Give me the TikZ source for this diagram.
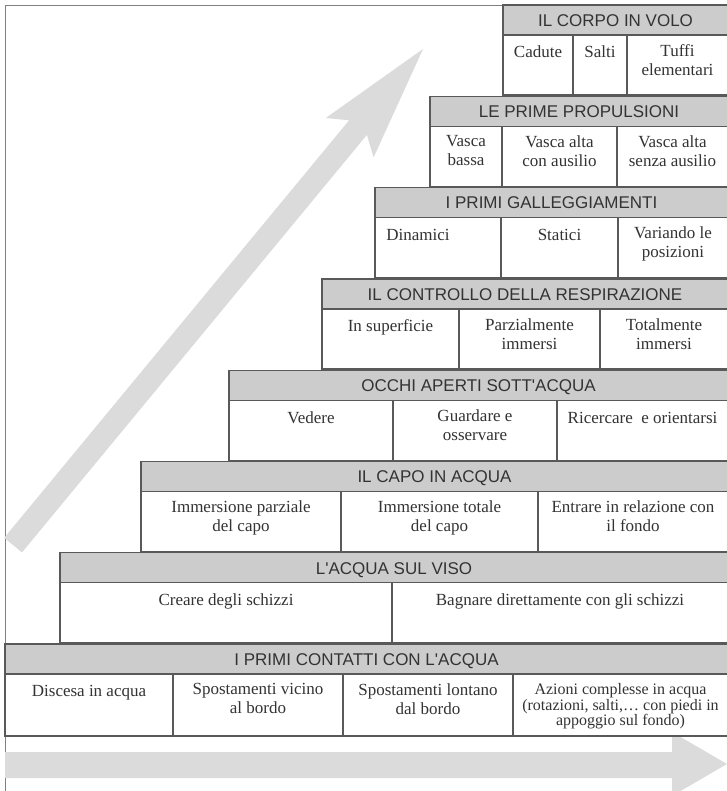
\documentclass[tikz,border=0pt]{standalone}
\usepackage{fontspec}
\setmainfont{Liberation Serif}
\newfontfamily\headfont{Liberation Sans}
\definecolor{textgray}{gray}{0.2}
\definecolor{linegray}{gray}{0.35}
\definecolor{headgray}{gray}{0.8}
\definecolor{arrowgray}{gray}{0.86}
\tikzset{
  head/.style={draw=linegray, line width=1.3pt, fill=headgray, minimum height=30pt, inner sep=0pt,
    text height=12.5pt, text depth=0pt, text=textgray, font=\headfont\fontsize{17}{20}\selectfont},
  cell/.style={draw=linegray, line width=1.3pt, fill=white, minimum height=60pt, inner sep=0pt},
  txt/.style={anchor=north, yshift=-10pt, align=center, inner sep=0pt, text=textgray,
    font=\fontsize{17}{19}\selectfont, execute at begin node=\strut},
}
\begin{document}
\begin{tikzpicture}[x=1pt,y=-1pt]
	\useasboundingbox (0,0) rectangle (726,791);
	% frame and the two grey arrows
	\draw[gray, line width=0.8pt] (5,791) -- (5,5) -- (503,5);
	\fill[arrowgray] (4.2,537.8) -- (22,552.4) -- (366.9,134.9) -- (373.6,157.4) -- (423,49)
		-- (325.8,118) -- (349.1,120.3) -- cycle;
	\fill[arrowgray] (5,752) -- (672,752) -- (672,732) -- (727,764) -- (672,796) -- (672,778) -- (5,778) -- cycle;

	\node[head, minimum width=225pt] (LA) at (615.5,20) {IL CORPO IN VOLO};
	\node[cell, minimum width=70pt, label={[txt]north:Cadute}] (LA1) at (538,65) {};
	\node[cell, minimum width=54pt, label={[txt]north:Salti}] (LA2) at (600,65) {};
	\node[cell, minimum width=101pt, label={[txt]north:{Tuffi\\elementari}}] (LA3) at (677.5,65) {};

	\node[head, minimum width=298pt] (LB) at (579,111.3) {LE PRIME PROPULSIONI};
	\node[cell, minimum width=72pt, label={[txt]north:{Vasca\\bassa}}] (LB1) at (466,156.3) {};
	\node[cell, minimum width=115pt, label={[txt]north:{Vasca alta\\con ausilio}}] (LB2) at (559.5,156.3) {};
	\node[cell, minimum width=111pt, label={[txt]north:{Vasca alta\\senza ausilio}}] (LB3) at (672.5,156.3) {};

	\node[head, minimum width=353pt] (LC) at (551.5,202.6) {I PRIMI GALLEGGIAMENTI};
	\node[cell, minimum width=126pt, label={[txt, xshift=-20pt]north:Dinamici}] (LC1) at (438,247.6) {};
	\node[cell, minimum width=117pt, label={[txt]north:Statici}] (LC2) at (559.5,247.6) {};
	\node[cell, minimum width=110pt, label={[txt]north:{Variando le\\posizioni}}] (LC3) at (673,247.6) {};

	\node[head, minimum width=406pt] (LD) at (525,293.9) {IL CONTROLLO DELLA RESPIRAZIONE};
	\node[cell, minimum width=137pt, label={[txt]north:In superficie}] (LD1) at (390.5,338.9) {};
	\node[cell, minimum width=141pt, label={[txt]north:{Parzialmente\\immersi}}] (LD2) at (529.5,338.9) {};
	\node[cell, minimum width=128pt, label={[txt]north:{Totalmente\\immersi}}] (LD3) at (664,338.9) {};

	\node[head, minimum width=499pt] (LE) at (478.5,385.2) {OCCHI APERTI SOTT'ACQUA};
	\node[cell, minimum width=164pt, label={[txt]north:Vedere}] (LE1) at (311,430.2) {};
	\node[cell, minimum width=164pt, label={[txt]north:{Guardare e\\osservare}}] (LE2) at (475,430.2) {};
	\node[cell, minimum width=171pt, label={[txt]north:{Ricercare\ \ e orientarsi}}] (LE3) at (642.5,430.2) {};

	\node[head, minimum width=587pt] (LF) at (434.5,476.5) {IL CAPO IN ACQUA};
	\node[cell, minimum width=200pt, label={[txt]north:{Immersione parziale\\del capo}}] (LF1) at (241,521.5) {};
	\node[cell, minimum width=197pt, label={[txt]north:{Immersione totale\\del capo}}] (LF2) at (439.5,521.5) {};
	\node[cell, minimum width=190pt, label={[txt]north:{Entrare in relazione con\\il fondo}}] (LF3) at (633,521.5) {};

	\node[head, minimum width=668pt] (LG) at (394,567.8) {L'ACQUA SUL VISO};
	\node[cell, minimum width=332pt, label={[txt]north:Creare degli schizzi}] (LG1) at (226,612.8) {};
	\node[cell, minimum width=336pt, label={[txt]north:Bagnare direttamente con gli schizzi}] (LG2) at (560,612.8) {};

	\node[head, minimum width=723pt] (LH) at (366.5,659.1) {I PRIMI CONTATTI CON L'ACQUA};
	\node[cell, minimum width=168pt, minimum height=62pt, label={[txt]north:Discesa in acqua}] (LH1) at (89,705.1) {};
	\node[cell, minimum width=170pt, minimum height=62pt, label={[txt]north:{Spostamenti vicino\\al bordo}}] (LH2) at (258,705.1) {};
	\node[cell, minimum width=170pt, minimum height=62pt, label={[txt]north:{Spostamenti lontano\\dal bordo}}] (LH3) at (428,705.1) {};
	\node[cell, minimum width=215pt, minimum height=62pt, label={[txt, font=\fontsize{16}{15.5}\selectfont]north:{Azioni complesse in acqua\\(rotazioni, salti,\ldots{} con piedi in\\appoggio sul fondo)}}] (LH4) at (620.5,705.1) {};
\end{tikzpicture}
\end{document}
